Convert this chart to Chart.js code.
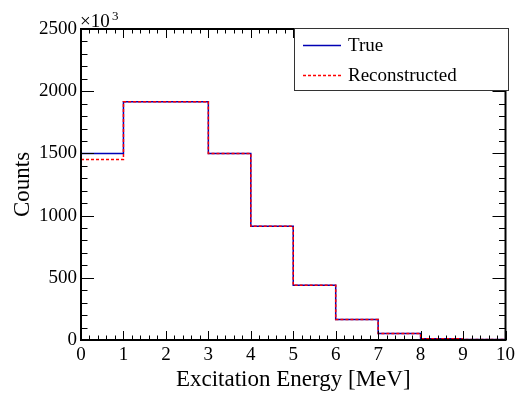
<!DOCTYPE html>
<html>
<head>
<meta charset="utf-8">
<script src="https://cdn.jsdelivr.net/npm/chart.js@4.4.0/dist/chart.umd.min.js"></script>
<style>
  html, body { margin: 0; padding: 0; background: #fff; }
  #wrap { width: 519px; height: 394px; }
</style>
</head>
<body>
<div id="wrap"><canvas id="histo"></canvas></div>
<script>
// bin edges (MeV) and counts per bin
const binEdges = [0, 1, 3, 4, 5, 6, 7, 8, 9, 10];
const trueCounts = [1500, 1915, 1500, 915, 440, 165, 52, 11, 4];
const recoCounts = [1450, 1915, 1500, 915, 440, 165, 52, 11, 4];
const yTicks = [0, 500, 1000, 1500, 2000, 2500];
const xTicks = [0, 1, 2, 3, 4, 5, 6, 7, 8, 9, 10];
const seriesNames = ['True', 'Reconstructed'];

const serif = "'Liberation Serif', 'Times New Roman', serif";
const blue = '#0000b4';
const red = '#ff0000';
const dash = [3, 2];

// histogram -> step points (lower edges + final upper edge)
function stepPoints(counts) {
    const pts = counts.map((c, i) => ({ x: binEdges[i], y: c }));
    pts.push({ x: binEdges[binEdges.length - 1], y: counts[counts.length - 1] });
    return pts;
}

// ROOT-like frame, inward ticks, legend and x10^3 label
const rootStyle = {
    id: 'rootStyle',
    afterDatasetsDraw(chart) {
        const ctx = chart.ctx;
        const a = chart.chartArea;
        const xs = chart.scales.x, ys = chart.scales.y;
        ctx.save();
        ctx.strokeStyle = '#000';
        ctx.lineWidth = 1;

        // y ticks, left and right
        for (let v = 0; v <= 2500; v += 100) {
            const py = Math.round(ys.getPixelForValue(v)) + 0.5;
            const len = v % 500 === 0 ? 13 : 6.5;
            ctx.beginPath();
            ctx.moveTo(a.left, py); ctx.lineTo(a.left + len, py);
            ctx.moveTo(a.right, py); ctx.lineTo(a.right - len, py);
            ctx.stroke();
        }
        // x ticks, bottom and top
        for (let i = 0; i <= 50; i++) {
            const px = Math.round(xs.getPixelForValue(i * 0.2)) + 0.5;
            const len = i % 5 === 0 ? 9 : 4.5;
            ctx.beginPath();
            ctx.moveTo(px, a.bottom); ctx.lineTo(px, a.bottom - len);
            ctx.moveTo(px, a.top); ctx.lineTo(px, a.top + len);
            ctx.stroke();
        }
        // frame
        ctx.lineWidth = 2;
        ctx.strokeRect(a.left, a.top, a.right - a.left, a.bottom - a.top);

        // legend box
        const lx = 294, ly = 28, lw = 215, lh = 63;
        ctx.fillStyle = '#fff';
        ctx.fillRect(lx, ly, lw, lh);
        ctx.lineWidth = 1;
        ctx.strokeStyle = '#333';
        ctx.strokeRect(lx + 0.5, ly + 0.5, lw - 1, lh - 1);

        const styles = [{ color: blue, dash: [] }, { color: red, dash: dash }];
        seriesNames.forEach((name, i) => {
            const yy = ly + 17 + i * 30;
            ctx.beginPath();
            ctx.lineWidth = 1.5;
            ctx.strokeStyle = styles[i].color;
            ctx.setLineDash(styles[i].dash);
            ctx.moveTo(303, yy + 0.5);
            ctx.lineTo(341, yy + 0.5);
            ctx.stroke();
            ctx.setLineDash([]);
            ctx.fillStyle = '#000';
            ctx.font = '19px ' + serif;
            ctx.textBaseline = 'middle';
            ctx.textAlign = 'left';
            ctx.fillText(name, 348, yy + 1);
        });

        // x10^3 exponent label
        ctx.fillStyle = '#000';
        ctx.textBaseline = 'alphabetic';
        ctx.font = '19px ' + serif;
        ctx.fillText('\u00d710', 80, 27);
        ctx.font = '13px ' + serif;
        ctx.fillText('3', 112, 20);
        ctx.restore();
    }
};

new Chart(document.getElementById('histo'), {
    type: 'line',
    data: {
        datasets: [
            {
                label: seriesNames[0],
                data: stepPoints(trueCounts),
                borderColor: blue,
                borderWidth: 1.5,
                stepped: true,
                pointRadius: 0,
                fill: false,
                order: 1
            },
            {
                label: seriesNames[1],
                data: stepPoints(recoCounts),
                borderColor: red,
                borderDash: dash,
                borderWidth: 1.5,
                stepped: true,
                pointRadius: 0,
                fill: false,
                order: 0
            }
        ]
    },
    options: {
        responsive: true,
        maintainAspectRatio: false,
        animation: false,
        layout: { padding: { left: 0, top: 29, right: 10, bottom: 0 } },
        plugins: {
            legend: { display: false },
            tooltip: { enabled: false }
        },
        scales: {
            x: {
                type: 'linear',
                min: 0,
                max: 10,
                afterBuildTicks: s => { s.ticks = xTicks.map(v => ({ value: v })); },
                afterFit: s => { s.height = 54; },
                grid: { display: false, drawTicks: false },
                border: { display: false },
                ticks: {
                    padding: 4,
                    color: '#000',
                    font: { family: serif, size: 19 }
                },
                title: {
                    display: true,
                    text: 'Excitation Energy [MeV]',
                    color: '#000',
                    font: { family: serif, size: 23 },
                    padding: { top: 0, bottom: 0 }
                }
            },
            y: {
                min: 0,
                max: 2500,
                afterBuildTicks: s => { s.ticks = yTicks.map(v => ({ value: v })); },
                afterFit: s => { s.width = 81; },
                grid: { display: false, drawTicks: false },
                border: { display: false },
                ticks: {
                    padding: 4,
                    color: '#000',
                    font: { family: serif, size: 19 },
                    callback: v => String(v)
                },
                title: {
                    display: true,
                    text: 'Counts',
                    color: '#000',
                    font: { family: serif, size: 23 },
                    padding: { top: 9, bottom: 0 }
                }
            }
        }
    },
    plugins: [rootStyle]
});
</script>
</body>
</html>
